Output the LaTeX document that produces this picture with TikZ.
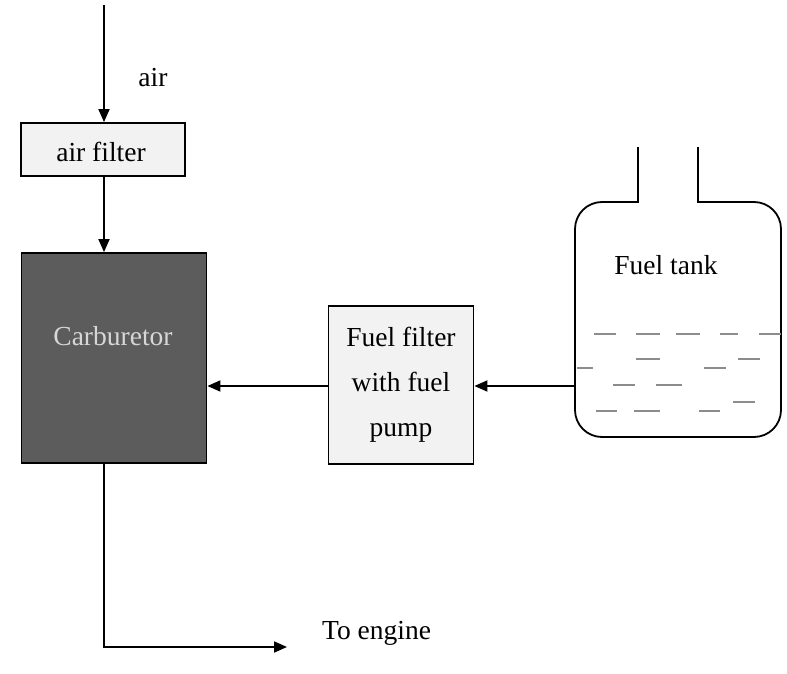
\documentclass[tikz,border=0pt]{standalone}
\usepackage{fontspec}
\setmainfont{Liberation Serif}
\usetikzlibrary{arrows.meta}
\definecolor{carbfill}{RGB}{92,92,92}
\definecolor{carbtext}{RGB}{215,215,215}
\definecolor{boxfill}{RGB}{242,242,242}
\definecolor{fuelgray}{RGB}{140,140,140}
\tikzset{
  conn/.style={line width=1.8pt, -{Triangle[length=13pt,width=11pt]}},
  plain/.style={line width=1.8pt},
  boxnode/.style={draw, line width=1.8pt, fill=boxfill, inner sep=0pt, align=center},
  lbl/.style={font=\fontsize{27.5}{45}\selectfont, inner sep=0pt, align=center},
  fuel/.style={draw=fuelgray, line width=2pt}
}
\begin{document}
\begin{tikzpicture}[x=1pt,y=-1pt]
\useasboundingbox (0,0) rectangle (787,674);
\fill[white] (0,0) rectangle (787,674);
% nodes
\node[boxnode, minimum width=164pt, minimum height=53pt] (af) at (103,149.5) {};
\node[lbl] (aftext) at (101,152) {air filter};
\node[boxnode, fill=carbfill, minimum width=185pt, minimum height=210pt] (carb) at (114,358) {};
\node[lbl, text=carbtext] (carbtext) at (113,336) {Carburetor};
\node[boxnode, minimum width=145pt, minimum height=158pt, lbl, fill=boxfill, draw, line width=1.8pt] (ff) at (401,385) {Fuel filter\\with fuel\\pump};
\node[lbl] (airtext) at (153,78) {air};
\node[lbl] (tanktext) at (666,265) {Fuel tank};
\node[lbl, anchor=west] (engtext) at (322,633) {To engine};
% coordinates
\coordinate (airin) at (104,5);
\coordinate (tankin) at (575,386);
\coordinate (engend) at (287,647);
% fuel tank
\draw[plain, rounded corners=27pt] (638,202) -- (575,202) -- (575,437) -- (781,437) -- (781,202) -- (698,202);
\draw[plain] (638,147) -- (638,203);
\draw[plain] (698,147) -- (698,203);
% liquid
\foreach \y/\a/\b in {334/594/616, 334/636/660, 334/676/700, 334/720/738, 334/759/781,
  359/636/660, 359/738/760, 368/577/593, 368/704/726,
  385/613/635, 385/656/682, 402/733/755,
  411/596/617, 411/634/660, 411/699/720}
  \draw[fuel] (\a,\y) -- (\b,\y);
% connectors
\draw[conn] (airin) -- (airin |- af.north);
\draw[conn] (airin |- af.south) -- (airin |- carb.north);
\draw[conn] (tankin) -- (ff.east |- tankin);
\draw[conn] (ff.west |- tankin) -- (carb.east |- tankin);
\draw[conn] (airin |- carb.south) |- (engend);
\end{tikzpicture}
\end{document}
